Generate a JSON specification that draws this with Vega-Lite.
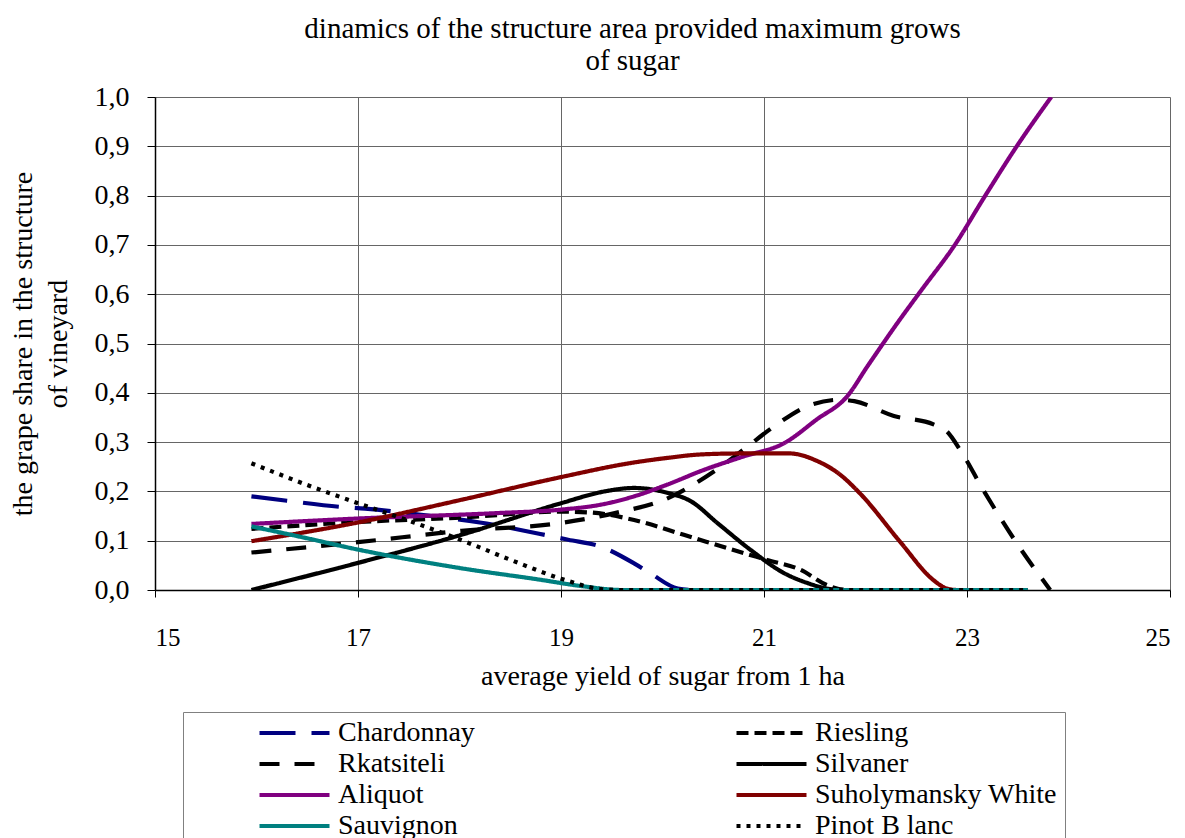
{
  "$schema": "https://vega.github.io/schema/vega-lite/v6.json",
  "autosize": {"type": "none"},
  "width": 1015,
  "height": 493,
  "padding": {"left": 155, "top": 97, "right": 15, "bottom": 248},
  "background": "white",
  "title": {
    "text": ["dinamics of the structure area provided maximum grows", "of sugar"],
    "font": "Liberation Serif",
    "fontSize": 29,
    "fontWeight": "normal",
    "color": "black",
    "anchor": "middle",
    "frame": "group",
    "dx": -30,
    "lineHeight": 32,
    "offset": 7
  },
  "config": {
    "view": {"stroke": null},
    "font": "Liberation Serif"
  },
  "data": {
    "values": [
      {"variety": "Chardonnay", "x": 15.95, "y": 0.19},
      {"variety": "Chardonnay", "x": 16.3, "y": 0.181},
      {"variety": "Chardonnay", "x": 16.86, "y": 0.168},
      {"variety": "Chardonnay", "x": 17.07, "y": 0.165},
      {"variety": "Chardonnay", "x": 17.6, "y": 0.153},
      {"variety": "Chardonnay", "x": 18.2, "y": 0.137},
      {"variety": "Chardonnay", "x": 18.86, "y": 0.111},
      {"variety": "Chardonnay", "x": 19.07, "y": 0.102},
      {"variety": "Chardonnay", "x": 19.39, "y": 0.088},
      {"variety": "Chardonnay", "x": 19.72, "y": 0.054},
      {"variety": "Chardonnay", "x": 19.88, "y": 0.034},
      {"variety": "Chardonnay", "x": 20.15, "y": 0.003},
      {"variety": "Chardonnay", "x": 20.3, "y": 0},
      {"variety": "Chardonnay", "x": 23.6, "y": 0},

      {"variety": "Riesling", "x": 15.95, "y": 0.124},
      {"variety": "Riesling", "x": 17, "y": 0.138},
      {"variety": "Riesling", "x": 18.02, "y": 0.147},
      {"variety": "Riesling", "x": 19, "y": 0.159},
      {"variety": "Riesling", "x": 19.3, "y": 0.157},
      {"variety": "Riesling", "x": 19.72, "y": 0.142},
      {"variety": "Riesling", "x": 20.21, "y": 0.112},
      {"variety": "Riesling", "x": 20.7, "y": 0.081},
      {"variety": "Riesling", "x": 21.03, "y": 0.061},
      {"variety": "Riesling", "x": 21.36, "y": 0.041},
      {"variety": "Riesling", "x": 21.62, "y": 0.01},
      {"variety": "Riesling", "x": 21.8, "y": 0},
      {"variety": "Riesling", "x": 23.6, "y": 0},

      {"variety": "Rkatsiteli", "x": 15.95, "y": 0.076},
      {"variety": "Rkatsiteli", "x": 17, "y": 0.097},
      {"variety": "Rkatsiteli", "x": 18.02, "y": 0.12},
      {"variety": "Rkatsiteli", "x": 19, "y": 0.136},
      {"variety": "Rkatsiteli", "x": 19.53, "y": 0.156},
      {"variety": "Rkatsiteli", "x": 20.05, "y": 0.186},
      {"variety": "Rkatsiteli", "x": 20.51, "y": 0.241},
      {"variety": "Rkatsiteli", "x": 20.8, "y": 0.285},
      {"variety": "Rkatsiteli", "x": 21.1, "y": 0.332},
      {"variety": "Rkatsiteli", "x": 21.43, "y": 0.373},
      {"variety": "Rkatsiteli", "x": 21.75, "y": 0.386},
      {"variety": "Rkatsiteli", "x": 21.89, "y": 0.383},
      {"variety": "Rkatsiteli", "x": 22.28, "y": 0.353},
      {"variety": "Rkatsiteli", "x": 22.67, "y": 0.336},
      {"variety": "Rkatsiteli", "x": 22.8, "y": 0.322},
      {"variety": "Rkatsiteli", "x": 22.93, "y": 0.285},
      {"variety": "Rkatsiteli", "x": 23.16, "y": 0.203},
      {"variety": "Rkatsiteli", "x": 23.49, "y": 0.095},
      {"variety": "Rkatsiteli", "x": 23.82, "y": 0},

      {"variety": "Silvaner", "x": 15.95, "y": 0},
      {"variety": "Silvaner", "x": 17, "y": 0.055},
      {"variety": "Silvaner", "x": 18.02, "y": 0.112},
      {"variety": "Silvaner", "x": 19, "y": 0.176},
      {"variety": "Silvaner", "x": 19.43, "y": 0.2},
      {"variety": "Silvaner", "x": 19.72, "y": 0.207},
      {"variety": "Silvaner", "x": 20.05, "y": 0.197},
      {"variety": "Silvaner", "x": 20.28, "y": 0.18},
      {"variety": "Silvaner", "x": 20.54, "y": 0.136},
      {"variety": "Silvaner", "x": 20.87, "y": 0.081},
      {"variety": "Silvaner", "x": 21.2, "y": 0.034},
      {"variety": "Silvaner", "x": 21.43, "y": 0.014},
      {"variety": "Silvaner", "x": 21.62, "y": 0.003},
      {"variety": "Silvaner", "x": 21.8, "y": 0},
      {"variety": "Silvaner", "x": 23.6, "y": 0},

      {"variety": "Aliquot", "x": 15.95, "y": 0.134},
      {"variety": "Aliquot", "x": 17, "y": 0.145},
      {"variety": "Aliquot", "x": 18.37, "y": 0.156},
      {"variety": "Aliquot", "x": 19, "y": 0.163},
      {"variety": "Aliquot", "x": 19.39, "y": 0.173},
      {"variety": "Aliquot", "x": 19.72, "y": 0.19},
      {"variety": "Aliquot", "x": 20.05, "y": 0.214},
      {"variety": "Aliquot", "x": 20.4, "y": 0.243},
      {"variety": "Aliquot", "x": 20.8, "y": 0.271},
      {"variety": "Aliquot", "x": 21.2, "y": 0.298},
      {"variety": "Aliquot", "x": 21.52, "y": 0.346},
      {"variety": "Aliquot", "x": 21.82, "y": 0.393},
      {"variety": "Aliquot", "x": 22.02, "y": 0.454},
      {"variety": "Aliquot", "x": 22.34, "y": 0.549},
      {"variety": "Aliquot", "x": 22.55, "y": 0.608},
      {"variety": "Aliquot", "x": 22.88, "y": 0.7},
      {"variety": "Aliquot", "x": 23.18, "y": 0.8},
      {"variety": "Aliquot", "x": 23.49, "y": 0.9},
      {"variety": "Aliquot", "x": 23.83, "y": 1.0},

      {"variety": "Suholymansky White", "x": 15.95, "y": 0.099},
      {"variety": "Suholymansky White", "x": 17, "y": 0.137},
      {"variety": "Suholymansky White", "x": 18.02, "y": 0.183},
      {"variety": "Suholymansky White", "x": 19, "y": 0.229},
      {"variety": "Suholymansky White", "x": 19.67, "y": 0.257},
      {"variety": "Suholymansky White", "x": 20.05, "y": 0.268},
      {"variety": "Suholymansky White", "x": 20.38, "y": 0.275},
      {"variety": "Suholymansky White", "x": 20.8, "y": 0.277},
      {"variety": "Suholymansky White", "x": 21.25, "y": 0.277},
      {"variety": "Suholymansky White", "x": 21.52, "y": 0.262},
      {"variety": "Suholymansky White", "x": 21.75, "y": 0.234},
      {"variety": "Suholymansky White", "x": 21.95, "y": 0.195},
      {"variety": "Suholymansky White", "x": 22.34, "y": 0.098},
      {"variety": "Suholymansky White", "x": 22.67, "y": 0.02},
      {"variety": "Suholymansky White", "x": 22.8, "y": 0.003},
      {"variety": "Suholymansky White", "x": 22.9, "y": 0},
      {"variety": "Suholymansky White", "x": 23.6, "y": 0},

      {"variety": "Sauvignon", "x": 15.95, "y": 0.129},
      {"variety": "Sauvignon", "x": 16.43, "y": 0.108},
      {"variety": "Sauvignon", "x": 17, "y": 0.082},
      {"variety": "Sauvignon", "x": 18.02, "y": 0.044},
      {"variety": "Sauvignon", "x": 18.79, "y": 0.021},
      {"variety": "Sauvignon", "x": 19.2, "y": 0.008},
      {"variety": "Sauvignon", "x": 19.6, "y": 0},
      {"variety": "Sauvignon", "x": 23.6, "y": 0},

      {"variety": "Pinot B lanc", "x": 15.95, "y": 0.257},
      {"variety": "Pinot B lanc", "x": 16.5, "y": 0.213},
      {"variety": "Pinot B lanc", "x": 17, "y": 0.176},
      {"variety": "Pinot B lanc", "x": 17.55, "y": 0.137},
      {"variety": "Pinot B lanc", "x": 18.07, "y": 0.097},
      {"variety": "Pinot B lanc", "x": 18.53, "y": 0.059},
      {"variety": "Pinot B lanc", "x": 19, "y": 0.023},
      {"variety": "Pinot B lanc", "x": 19.39, "y": 0.002},
      {"variety": "Pinot B lanc", "x": 19.6, "y": 0},
      {"variety": "Pinot B lanc", "x": 23.6, "y": 0}
    ]
  },
  "mark": {"type": "line", "interpolate": "monotone", "strokeWidth": 4.2, "strokeCap": "butt", "clip": true},
  "encoding": {
    "x": {
      "field": "x", "type": "quantitative",
      "scale": {"domain": [15, 25], "nice": false, "zero": false},
      "axis": {
        "values": [15, 17, 19, 21, 23, 25],
        "title": "average yield of sugar from 1 ha",
        "grid": true, "gridColor": "#666666", "gridWidth": 1,
        "domainColor": "black", "domainWidth": 1.5,
        "tickColor": "black", "tickSize": 7,
        "labelFont": "Liberation Serif", "labelFontSize": 25, "labelColor": "black", "labelPadding": 28,
        "titleFont": "Liberation Serif", "titleFontSize": 28, "titleFontWeight": "normal", "titleColor": "black", "titlePadding": 12
      }
    },
    "y": {
      "field": "y", "type": "quantitative",
      "scale": {"domain": [0, 1], "nice": false},
      "axis": {
        "values": [0, 0.1, 0.2, 0.3, 0.4, 0.5, 0.6, 0.7, 0.8, 0.9, 1.0],
        "labelExpr": "replace(format(datum.value, '.1f'), '.', ',')",
        "title": ["the grape share in the structure", "of vineyard"],
        "grid": true, "gridColor": "#666666", "gridWidth": 1,
        "domainColor": "black", "domainWidth": 1.5,
        "tickColor": "black", "tickSize": 8,
        "labelFont": "Liberation Serif", "labelFontSize": 28, "labelColor": "black", "labelPadding": 18,
        "titleFont": "Liberation Serif", "titleFontSize": 28, "titleFontWeight": "normal", "titleColor": "black", "titlePadding": 22, "titleLineHeight": 35
      }
    },
    "color": {
      "field": "variety", "type": "nominal",
      "scale": {
        "domain": ["Chardonnay", "Riesling", "Rkatsiteli", "Silvaner", "Aliquot", "Suholymansky White", "Sauvignon", "Pinot B lanc"],
        "range": ["#000080", "#000000", "#000000", "#000000", "#800080", "#800000", "#008080", "#000000"]
      },
      "sort": ["Chardonnay", "Riesling", "Rkatsiteli", "Silvaner", "Aliquot", "Suholymansky White", "Sauvignon", "Pinot B lanc"],
      "legend": {
        "title": null,
        "orient": "none",
        "legendX": 28,
        "legendY": 615,
        "columns": 2,
        "direction": "horizontal",
        "symbolType": "stroke",
        "symbolSize": 4900,
        "symbolStrokeWidth": 4.2,
        "symbolOffset": 66,
        "clipHeight": 26,
        "labelFont": "Liberation Serif",
        "labelFontSize": 28,
        "labelColor": "black",
        "labelOffset": 6,
        "labelLimit": 400,
        "columnPadding": 193,
        "rowPadding": 3,
        "padding": 8,
        "strokeColor": "#808080",
        "fillColor": "white"
      }
    },
    "strokeDash": {
      "field": "variety", "type": "nominal",
      "scale": {
        "domain": ["Chardonnay", "Riesling", "Rkatsiteli", "Silvaner", "Aliquot", "Suholymansky White", "Sauvignon", "Pinot B lanc"],
        "range": [[36, 16], [12, 6], [20, 15], [1, 0], [1, 0], [1, 0], [1, 0], [4, 6]]
      },
      "sort": ["Chardonnay", "Riesling", "Rkatsiteli", "Silvaner", "Aliquot", "Suholymansky White", "Sauvignon", "Pinot B lanc"]
    }
  }
}
